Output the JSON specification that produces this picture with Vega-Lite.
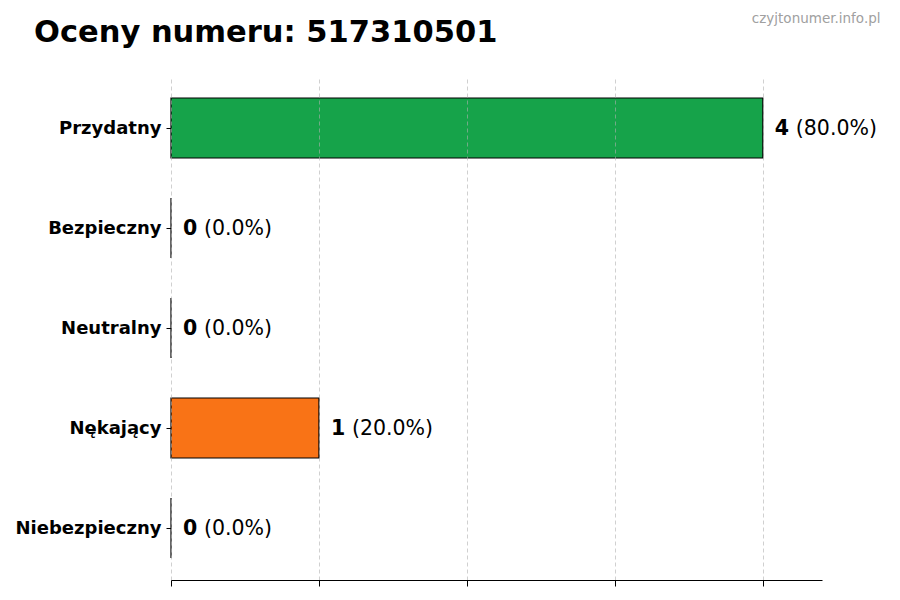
{
  "$schema": "https://vega.github.io/schema/vega-lite/v6.json",
  "width": 651,
  "height": 504,
  "autosize": "none",
  "padding": {"left": 171, "top": 76, "right": 78, "bottom": 20},
  "background": "white",
  "title": {
    "text": "Oceny numeru: 517310501",
    "anchor": "start",
    "frame": "group",
    "dx": -137,
    "offset": -37,
    "font": "DejaVu Sans",
    "fontSize": 30.5,
    "fontWeight": "bold",
    "color": "black"
  },
  "data": {
    "values": [
      {"kategoria": "Przydatny", "liczba": 4, "procent": "(80.0%)"},
      {"kategoria": "Bezpieczny", "liczba": 0, "procent": "(0.0%)"},
      {"kategoria": "Neutralny", "liczba": 0, "procent": "(0.0%)"},
      {"kategoria": "Nękający", "liczba": 1, "procent": "(20.0%)"},
      {"kategoria": "Niebezpieczny", "liczba": 0, "procent": "(0.0%)"}
    ]
  },
  "encoding": {
    "y": {
      "field": "kategoria",
      "type": "nominal",
      "sort": null,
      "scale": {"paddingInner": 0.4, "paddingOuter": 0.22},
      "axis": {
        "title": null,
        "domain": false,
        "ticks": true,
        "tickSize": 5,
        "tickColor": "black",
        "labelPadding": 5,
        "labelOffset": 1,
        "labelFont": "DejaVu Sans",
        "labelFontSize": 18,
        "labelFontWeight": "bold",
        "labelColor": "black"
      }
    },
    "x": {
      "field": "liczba",
      "type": "quantitative",
      "scale": {"domain": [0, 4.4], "nice": false, "zero": true}
    }
  },
  "layer": [
    {
      "mark": {"type": "bar", "stroke": "black", "strokeWidth": 1.2},
      "encoding": {
        "x": {
          "field": "liczba",
          "type": "quantitative",
          "axis": {
            "title": null,
            "values": [0, 1, 2, 3, 4],
            "labels": false,
            "tickSize": 6,
            "tickColor": "black",
            "domainColor": "black",
            "domainWidth": 1.2,
            "grid": true,
            "gridColor": "#b0b0b0",
            "gridOpacity": 0.6,
            "gridDash": [4, 3],
            "zindex": 1
          }
        },
        "color": {
          "field": "kategoria",
          "type": "nominal",
          "scale": {
            "domain": ["Przydatny", "Bezpieczny", "Neutralny", "Nękający", "Niebezpieczny"],
            "range": ["#16a34a", "#22c55e", "#9ca3af", "#f97316", "#dc2626"]
          },
          "legend": null
        }
      }
    },
    {
      "mark": {
        "type": "text",
        "align": "left",
        "baseline": "middle",
        "dx": 12,
        "dy": 1,
        "font": "DejaVu Sans",
        "fontSize": 20.5,
        "fontWeight": "bold",
        "color": "black"
      },
      "encoding": {
        "text": {"field": "liczba", "type": "quantitative"},
        "x": {
          "field": "liczba",
          "type": "quantitative",
          "axis": {
            "orient": "top",
            "labels": false,
            "ticks": false,
            "domain": false,
            "grid": false,
            "title": "czyjtonumer.info.pl",
            "titleFont": "DejaVu Sans",
            "titleFontSize": 13.5,
            "titleFontWeight": "normal",
            "titleColor": "#a0a0a0",
            "titleAlign": "right",
            "titleAnchor": "end",
            "titleX": 709,
            "titleY": -54,
            "titleBaseline": "alphabetic"
          }
        }
      }
    },
    {
      "mark": {
        "type": "text",
        "align": "left",
        "baseline": "middle",
        "dx": 33,
        "dy": 1,
        "font": "DejaVu Sans",
        "fontSize": 20.5,
        "color": "black"
      },
      "encoding": {
        "text": {"field": "procent", "type": "nominal"},
        "x": {"field": "liczba", "type": "quantitative", "axis": null}
      }
    }
  ],
  "resolve": {"axis": {"x": "independent"}},
  "config": {
    "view": {"stroke": null},
    "font": "DejaVu Sans"
  }
}
